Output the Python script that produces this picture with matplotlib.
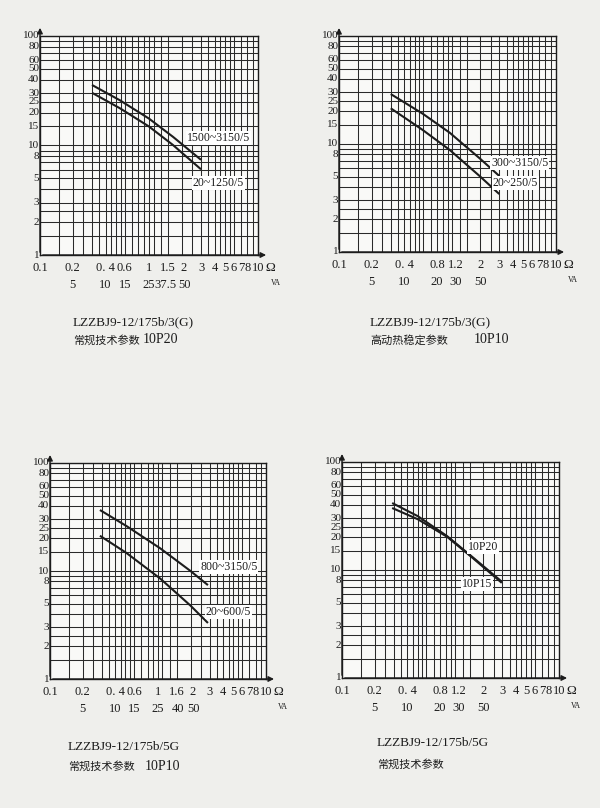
import matplotlib
matplotlib.use('Agg')
import matplotlib.pyplot as plt
from matplotlib.ticker import NullLocator

W, H = 600, 808
serif = ['Liberation Serif', 'DejaVu Serif']
cjk = ['Noto Sans CJK SC', 'DejaVu Sans']
ink = '#1c1c1c'

# printed log grid paper
grid_x = [0.15, 0.2, 0.25, 0.3, 0.35, 0.4, 0.45, 0.5, 0.55, 0.6, 0.7, 0.8, 0.9, 1,
          1.1, 1.3, 1.5, 2, 2.5, 3, 3.5, 4, 4.5, 5, 5.5, 6, 7, 8, 9, 10]
grid_y = [1, 1.5, 2, 2.5, 3, 4, 5, 6, 7, 8, 9, 10, 15, 20, 25, 30, 40, 50, 60, 70, 80, 90, 100]
y_ticks = [100, 80, 60, 50, 40, 30, 25, 20, 15, 10, 8, 5, 3, 2, 1]

# chart 1: LZZBJ9-12/175b/3(G) 10P20
c1_ohm = [0.1, 0.2, 0.4, 0.6, 1, 1.5, 2, 3, 4, 5, 6, 7, 8, 10]
c1_ohm_txt = ['0.1', '0.2', '0. 4', '0.6', '1', '1.5', '2', '3', '4', '5', '6', '7', '8', '10']
c1_va = [0.2, 0.4, 0.6, 1, 1.5, 2]
c1_va_txt = ['5', '10', '15', '25', '37.5', '50']
c1_hi_x = [0.3, 0.54, 1.0, 1.66, 3.0]
c1_hi_y = [35.7, 25.9, 17.6, 12.0, 7.4]
c1_lo_x = [0.3, 0.54, 1.0, 1.66, 3.0]
c1_lo_y = [30.3, 21.9, 14.9, 10.1, 6.06]

# chart 2: LZZBJ9-12/175b/3(G) 10P10
c2_ohm = [0.1, 0.2, 0.4, 0.8, 1.2, 2, 3, 4, 5, 6, 7, 8, 10]
c2_ohm_txt = ['0.1', '0.2', '0. 4', '0.8', '1.2', '2', '3', '4', '5', '6', '7', '8', '10']
c2_va = [0.2, 0.4, 0.8, 1.2, 2]
c2_va_txt = ['5', '10', '20', '30', '50']
c2_hi_x = [0.3, 0.59, 1.05, 2.0, 3.0]
c2_hi_y = [29.0, 19.1, 12.7, 7.3, 5.06]
c2_lo_x = [0.3, 0.59, 1.05, 2.0, 3.0]
c2_lo_y = [21.4, 13.5, 8.8, 5.0, 3.44]

# chart 3: LZZBJ9-12/175b/5G 10P10
c3_ohm = [0.1, 0.2, 0.4, 0.6, 1, 1.6, 2, 3, 4, 5, 6, 7, 8, 10]
c3_ohm_txt = ['0.1', '0.2', '0. 4', '0.6', '1', '1.6', '2', '3', '4', '5', '6', '7', '8', '10']
c3_va = [0.2, 0.4, 0.6, 1, 1.6, 2]
c3_va_txt = ['5', '10', '15', '25', '40', '50']
c3_hi_x = [0.29, 0.51, 1.05, 2.0, 2.9]
c3_hi_y = [36.7, 26.1, 16.2, 10.0, 7.4]
c3_lo_x = [0.29, 0.51, 1.05, 2.0, 2.9]
c3_lo_y = [21.2, 14.7, 8.5, 4.78, 3.3]

# chart 4: LZZBJ9-12/175b/5G 10P20 / 10P15
c4_ohm = [0.1, 0.2, 0.4, 0.8, 1.2, 2, 3, 4, 5, 6, 7, 8, 10]
c4_ohm_txt = ['0.1', '0.2', '0. 4', '0.8', '1.2', '2', '3', '4', '5', '6', '7', '8', '10']
c4_va = [0.2, 0.4, 0.8, 1.2, 2]
c4_va_txt = ['5', '10', '20', '30', '50']
c4_hi_x = [0.29, 0.5, 0.93, 1.62, 2.97]
c4_hi_y = [41.7, 31.5, 20.6, 13.0, 7.8]
c4_lo_x = [0.29, 0.5, 0.93, 1.62, 2.97]
c4_lo_y = [37.5, 29.5, 20.3, 12.8, 7.6]

# small sideways nudges (px) for crowded tick labels
nudge = {'37.5': -3, '1.6': -3, '40': -2}
nudge_last = {'50': 3, '2': 2}


def panel(box, ohm, ohm_txt, va, va_txt, curves, labels, crowded=False):
    l, t, r, b = box
    ax = fig.add_axes([l / W, 1 - b / H, (r - l) / W, (b - t) / H])
    ax.set_facecolor('#f9f9f7')
    ax.set_xscale('log')
    ax.set_yscale('log')
    ax.set_xlim(0.1, 10)
    ax.set_ylim(1, 100)
    ax.set_xticks(grid_x)
    ax.set_yticks(grid_y)
    ax.xaxis.set_minor_locator(NullLocator())
    ax.yaxis.set_minor_locator(NullLocator())
    ax.set_xticklabels([])
    ax.set_yticklabels([])
    ax.tick_params(length=0)
    ax.grid(True, color='#2a2a2a', lw=0.75)
    for s in ax.spines.values():
        s.set_color(ink)
        s.set_linewidth(1.0)
    ax.annotate('', xy=(1.05, 0), xytext=(0, 0), xycoords='axes fraction',
                arrowprops=dict(arrowstyle='-|>', color=ink, lw=1.0, mutation_scale=8))
    ax.annotate('', xy=(0, 1.05), xytext=(0, 0), xycoords='axes fraction',
                arrowprops=dict(arrowstyle='-|>', color=ink, lw=1.0, mutation_scale=8))
    tr = ax.get_yaxis_transform()
    for v in y_ticks:
        ax.text(-0.004, v, str(v), transform=tr, ha='right', va='center',
                fontsize=8, family=serif, color=ink)
    tx = ax.get_xaxis_transform()
    for row, (vals, txts) in enumerate([(ohm, ohm_txt), (va, va_txt)]):
        yy = -0.058 if row == 0 else -0.137
        for v, s in zip(vals, txts):
            dx = 0
            if crowded:
                dx = nudge.get(s, 0)
                if s in nudge_last and 1.5 <= v <= 2:
                    dx = nudge_last[s]
            ax.annotate(s, xy=(v, yy), xycoords=tx, xytext=(dx * 0.72, 0),
                        textcoords='offset points', ha='center', va='center',
                        fontsize=9, family=serif, color=ink, annotation_clip=False)
    ax.text(1.057, -0.058, 'Ω', transform=ax.transAxes, ha='center', va='center',
            fontsize=9.5, family=serif, color=ink)
    ax.text(1.08, -0.13, 'VA', transform=ax.transAxes, ha='center', va='center',
            fontsize=5.5, family=serif, color=ink)
    for cx, cy in curves:
        ax.plot(cx, cy, color=ink, lw=1.5, solid_capstyle='butt')
    for x, y, s in labels:
        ax.text(x, y, s, ha='left', va='center', fontsize=8.5, family=serif, color=ink,
                bbox=dict(facecolor='white', edgecolor='none', pad=0.6))
    return ax


fig = plt.figure(figsize=(W / 100, H / 100), dpi=100)
fig.patch.set_facecolor('#efefec')

panel((40, 36, 258, 255), c1_ohm, c1_ohm_txt, c1_va, c1_va_txt,
      [(c1_hi_x, c1_hi_y), (c1_lo_x, c1_lo_y)],
      [(2.23, 11.7, '1500~3150/5'), (2.53, 4.55, '20~1250/5')], crowded=True)
panel((339, 36, 556, 252), c2_ohm, c2_ohm_txt, c2_va, c2_va_txt,
      [(c2_hi_x, c2_hi_y), (c2_lo_x, c2_lo_y)],
      [(2.52, 6.67, '300~3150/5'), (2.62, 4.35, '20~250/5')])
panel((50, 463, 266, 679), c3_ohm, c3_ohm_txt, c3_va, c3_va_txt,
      [(c3_hi_x, c3_hi_y), (c3_lo_x, c3_lo_y)],
      [(2.45, 10.9, '800~3150/5'), (2.78, 4.17, '20~600/5')], crowded=True)
panel((342, 462, 559, 678), c4_ohm, c4_ohm_txt, c4_va, c4_va_txt,
      [(c4_hi_x, c4_hi_y), (c4_lo_x, c4_lo_y)],
      [(1.45, 16.3, '10P20'), (1.28, 7.42, '10P15')])

# captions
captions = [
    (73, 322, 340, 'LZZBJ9-12/175b/3(G)', '常规技术参数', '10P20', 143),
    (370, 322, 340, 'LZZBJ9-12/175b/3(G)', '高动热稳定参数', '10P10', 474),
    (68, 747, 766, 'LZZBJ9-12/175b/5G', '常规技术参数', '10P10', 145),
    (377, 743, 764, 'LZZBJ9-12/175b/5G', '常规技术参数', '', 0),
]
for x, y1, y2, line1, zh, code, cx in captions:
    fig.text(x / W, 1 - y1 / H, line1, ha='left', va='center', fontsize=9.5,
             family=serif, color=ink)
    fig.text(x / W, 1 - y2 / H, zh, ha='left', va='center', fontsize=8,
             family=cjk, color=ink)
    if code:
        fig.text(cx / W, 1 - y2 / H, code, ha='left', va='center', fontsize=10,
                 family=serif, color=ink)

fig.savefig('out.png', dpi=100, facecolor=fig.get_facecolor())
